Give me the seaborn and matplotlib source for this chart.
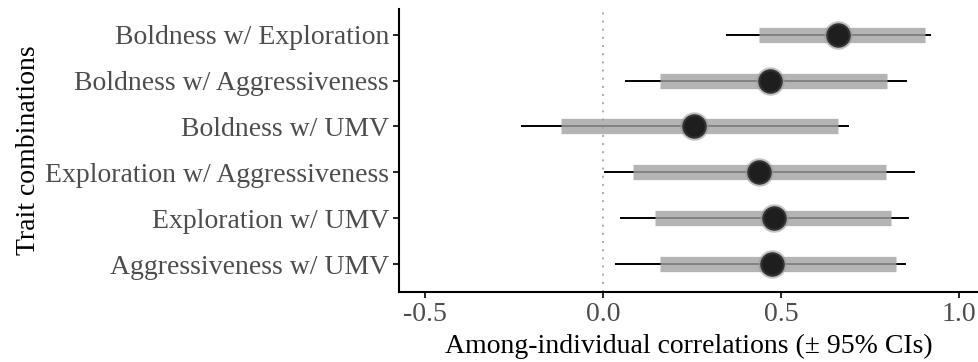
import matplotlib
matplotlib.use("Agg")
import matplotlib.pyplot as plt
import seaborn as sns
import pandas as pd

traits = ["Boldness w/ Exploration", "Boldness w/ Aggressiveness", "Boldness w/ UMV",
          "Exploration w/ Aggressiveness", "Exploration w/ UMV", "Aggressiveness w/ UMV"]
estimate = [0.659, 0.469, 0.256, 0.439, 0.479, 0.475]
ci95_low = [0.345, 0.062, -0.231, 0.003, 0.047, 0.033]
ci95_high = [0.921, 0.853, 0.690, 0.877, 0.858, 0.850]
inner_low = [0.437, 0.160, -0.119, 0.083, 0.146, 0.160]
inner_high = [0.905, 0.797, 0.660, 0.795, 0.808, 0.823]
xticks = [-0.5, 0.0, 0.5, 1.0]
xtick_labels = ["-0.5", "0.0", "0.5", "1.0"]

df = pd.DataFrame({"trait": traits, "est": estimate, "lo95": ci95_low, "hi95": ci95_high,
                   "lo": inner_low, "hi": inner_high})

sns.set_theme(style="ticks")
plt.rcParams["font.family"] = ["Liberation Serif", "DejaVu Serif"]

fig = plt.figure(figsize=(9.79, 3.62), dpi=100)
ax = fig.add_axes([399 / 979, 1 - 291.7 / 362, 1 - 399 / 979, (291.7 - 9) / 362])

ax.axvline(0, color="#aaaaaa", linestyle=(0, (1, 3.2)), lw=1.4, zorder=0)
ax.hlines(df["trait"], df["lo95"], df["hi95"], color="black", lw=1.4, zorder=1)
ax.hlines(df["trait"], df["lo"], df["hi"], color="#a2a2a2", alpha=0.8, lw=11,
          capstyle="butt", zorder=2)
sns.scatterplot(data=df, x="est", y="trait", s=420, color="#9a9a9a", alpha=0.6,
                linewidth=0, ax=ax, zorder=3, legend=False)
sns.scatterplot(data=df, x="est", y="trait", s=260, color="#1e1e1e",
                edgecolor="#333333", linewidth=1.5, ax=ax, zorder=4, legend=False)

ax.set_ylim(len(traits) - 0.4, -0.56)
ax.set_xlim(-0.573, 1.056)
ax.set_xticks(xticks)
ax.set_xticklabels(xtick_labels)
ax.tick_params(axis="both", labelsize=20, labelcolor="#4d4d4d", color="black",
               length=4.2, width=1.2, pad=3)
ax.set_xlabel("Among-individual correlations (± 95% CIs)", fontsize=20, color="black", labelpad=5)
ax.set_ylabel("Trait combinations", fontsize=20, color="black", labelpad=3)
for s in ["top", "right"]:
    ax.spines[s].set_visible(False)
for s in ["left", "bottom"]:
    ax.spines[s].set_color("black")
    ax.spines[s].set_linewidth(1.5)

fig.savefig("out.png", dpi=100)
